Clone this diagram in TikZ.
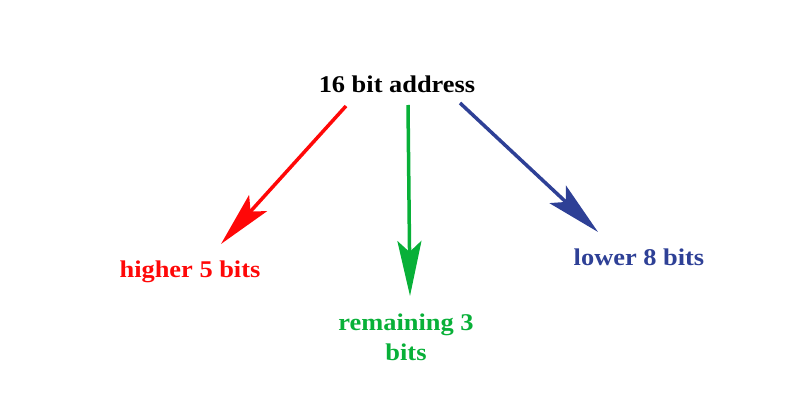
\documentclass[tikz,border=0pt]{standalone}
\usepackage{fontspec}
\setmainfont{Liberation Serif}[FakeStretch=1.1]
\usetikzlibrary{arrows.meta}
\definecolor{cred}{RGB}{255,8,8}
\definecolor{cgreen}{RGB}{8,176,56}
\definecolor{cblue}{RGB}{46,64,150}
\begin{document}
\begin{tikzpicture}[x=1pt,y=1pt,
  lbl/.style={font=\fontsize{24}{30}\selectfont\bfseries, align=center, inner sep=0pt},
  arr/.style={line width=3.5pt, -{Stealth[length=55pt,width=24pt,inset=11pt]}}]
\useasboundingbox (0,0) rectangle (800,418);
\node[lbl] (top) at (397,334) {16 bit address};
\node[lbl, text=cred] (hi) at (190,146) {higher 5 bits};
\node[lbl, text=cgreen] (rem) at (406,81) {remaining 3\\bits};
\node[lbl, text=cblue] (lo) at (639,161) {lower 8 bits};
\coordinate (rs) at (346,312);
\coordinate (re) at (221,174);
\coordinate (gs) at (408,313);
\coordinate (ge) at (410,122);
\coordinate (bs) at (460,315);
\coordinate (be) at (598,186);
\draw[arr, cred] (rs) -- (re);
\draw[arr, cgreen] (gs) -- (ge);
\draw[arr, cblue] (bs) -- (be);
\end{tikzpicture}
\end{document}
